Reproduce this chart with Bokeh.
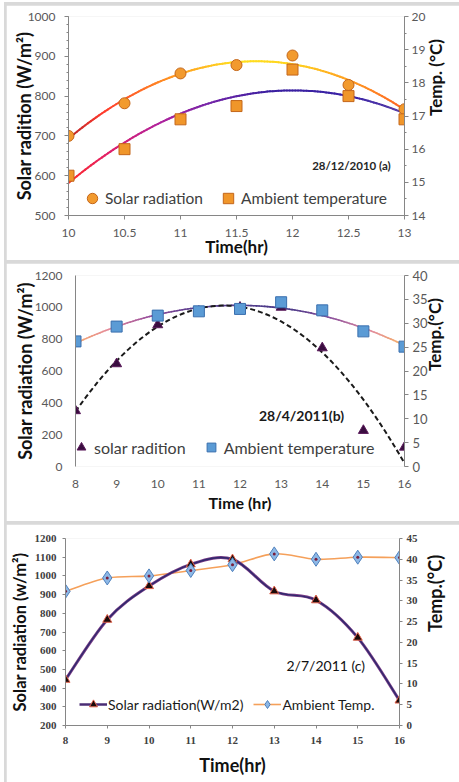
import numpy as np
from bokeh.plotting import figure
from bokeh.models import Range1d, LinearAxis, FixedTicker, Legend, LegendItem, Label, NumeralTickFormatter
from bokeh.layouts import column
from bokeh.embed import file_html
from bokeh.resources import INLINE

# ---------------- data ----------------
# (a) 28/12/2010
a_time = [10, 10.5, 11, 11.5, 12, 12.5, 13]
a_solar = [700, 782, 857, 878, 902, 828, 767]
a_temp = [15.2, 16.0, 16.9, 17.3, 18.4, 17.6, 16.9]
a_x_ticks = [10, 10.5, 11, 11.5, 12, 12.5, 13]
a_x_labels = ["10", "10.5", "11", "11.5", "12", "12.5", "13"]
a_left_ticks = [500, 600, 700, 800, 900, 1000]
a_right_ticks = [14, 15, 16, 17, 18, 19, 20]

# (b) 28/4/2011
b_time = [8, 9, 10, 11, 12, 13, 14, 15, 16]
b_solar = [350, 645, 890, 975, 1000, 1000, 745, 226, 121]
b_temp = [26.2, 29.3, 31.6, 32.5, 33.0, 34.4, 32.7, 28.3, 25.1]
b_x_ticks = [8, 9, 10, 11, 12, 13, 14, 15, 16]
b_left_ticks = [0, 200, 400, 600, 800, 1000, 1200]
b_right_ticks = [0, 5, 10, 15, 20, 25, 30, 35, 40]

# (c) 2/7/2011
c_time = [8, 9, 10, 11, 12, 13, 14, 15, 16]
c_solar = [445, 766, 946, 1062, 1089, 918, 870, 670, 334]
c_temp = [32.3, 35.5, 36.0, 37.3, 38.7, 41.3, 40.0, 40.5, 40.4]
c_x_ticks = [8, 9, 10, 11, 12, 13, 14, 15, 16]
c_left_ticks = [200, 300, 400, 500, 600, 700, 800, 900, 1000, 1100, 1200]
c_right_ticks = [0, 5, 10, 15, 20, 25, 30, 35, 40, 45]

FONT = "Lato"
AXC = "#868686"
TICKC = "#595959"
W = 453
NAN = [float("nan")]


def lerp_colors(stops, n):
    fr = np.array([s[0] for s in stops])
    rgb = np.array([[int(s[1][i:i + 2], 16) for i in (1, 3, 5)] for s in stops], float)
    out = []
    for t in np.linspace(0, 1, n):
        r = [int(round(np.interp(t, fr, rgb[:, k]))) for k in range(3)]
        out.append("#%02x%02x%02x" % tuple(r))
    return out


def gradient_trend(p, x, y, stops, width, yname="default", n=120):
    xs = np.linspace(min(x), max(x), n + 1)
    ys = np.polyval(np.polyfit(x, y, 2), xs)
    cols = lerp_colors(stops, n)
    p.segment(x0=xs[:-1], y0=ys[:-1], x1=xs[1:], y1=ys[1:], line_color=cols,
              line_width=width, line_cap="round", y_range_name=yname)


def smooth(p, x, y, yname="default", **kw):
    x = np.asarray(x, float)
    y = np.asarray(y, float)
    n = len(x)
    xp = np.concatenate([[x[0]], x, [x[-1]]])
    yp = np.concatenate([[y[0]], y, [y[-1]]])
    cx0 = xp[1:n] + (xp[2:n + 1] - xp[0:n - 1]) / 6
    cy0 = yp[1:n] + (yp[2:n + 1] - yp[0:n - 1]) / 6
    cx1 = xp[2:n + 1] - (xp[3:n + 2] - xp[1:n]) / 6
    cy1 = yp[2:n + 1] - (yp[3:n + 2] - yp[1:n]) / 6
    return p.bezier(x0=x[:-1], y0=y[:-1], x1=x[1:], y1=y[1:], cx0=cx0, cy0=cy0,
                    cx1=cx1, cy1=cy1, y_range_name=yname, **kw)


def base_fig(h, xr, yr, bl, br, bt, bb):
    p = figure(width=W, height=h, x_range=Range1d(*xr), y_range=Range1d(*yr), tools="",
               toolbar_location=None, output_backend="svg",
               min_border_left=bl, min_border_right=br, min_border_top=bt, min_border_bottom=bb)
    p.xgrid.visible = False
    p.ygrid.visible = False
    p.outline_line_color = None
    return p


def style_axis(ax, ticks, minor=None, tick_out=4, minor_out=0, standoff=5, font=FONT,
               size="12px", color=TICKC, bold=False, line_color=AXC):
    ax.ticker = FixedTicker(ticks=ticks, minor_ticks=minor if minor else [])
    ax.axis_line_color = line_color
    ax.major_tick_line_color = AXC if tick_out else None
    ax.major_tick_out = tick_out
    ax.major_tick_in = 0
    ax.minor_tick_line_color = AXC if minor_out else None
    ax.minor_tick_out = minor_out
    ax.minor_tick_in = 0
    ax.major_label_standoff = standoff
    ax.major_label_text_font = font
    ax.major_label_text_font_size = size
    ax.major_label_text_color = color
    ax.major_label_text_font_style = "bold" if bold else "normal"


def title_axis(ax, text, size, standoff, color="#111111", flip=False):
    ax.axis_label = text
    ax.axis_label_text_font = FONT
    ax.axis_label_text_font_size = size
    ax.axis_label_text_font_style = "bold"
    ax.axis_label_text_color = color
    ax.axis_label_standoff = standoff
    if flip and "axis_label_orientation" in ax.properties():
        ax.axis_label_orientation = float(np.pi / 2)


def add_text(p, fr, xr, yr, px, py, text, size, bold=True, color="#111111"):
    # fr = frame (left, right, top, bottom) in window pixels
    x = xr[0] + (px - fr[0]) / (fr[1] - fr[0]) * (xr[1] - xr[0])
    y = yr[0] + (fr[3] - py) / (fr[3] - fr[2]) * (yr[1] - yr[0])
    p.add_layout(Label(x=x, y=y, text=text, text_align="center",
                       text_baseline="middle", text_font=FONT, text_font_size=size,
                       text_font_style="bold" if bold else "normal", text_color=color))


def style_legend(leg, loc, size, glyph_w, glyph_h, standoff, spacing, color="#404040"):
    leg.location = loc
    leg.orientation = "horizontal"
    leg.background_fill_alpha = 0
    leg.border_line_color = None
    leg.padding = 0
    leg.margin = 0
    leg.spacing = spacing
    leg.label_standoff = standoff
    leg.glyph_width = glyph_w
    leg.glyph_height = glyph_h
    leg.label_text_font = FONT
    leg.label_text_font_size = size
    leg.label_text_color = color
    leg.label_height = 20


# ================= panel (a) =================
fa = (68, 410, 16, 216)
xa, ya = (10, 13), (500, 1000)
p1 = base_fig(255, xa, ya, 62, 49, 11, 45)
p1.extra_y_ranges = {"t": Range1d(14, 20)}
ra1 = LinearAxis(y_range_name="t")
p1.add_layout(ra1, "right")
style_axis(p1.left[0], a_left_ticks, list(range(500, 1001, 20)), 4, 2, 9)
style_axis(ra1, a_right_ticks, np.arange(14, 20.01, 0.5).tolist(), 4, 2, 3)
style_axis(p1.below[0], a_x_ticks, None, 4, 0, 9)
p1.below[0].formatter = NumeralTickFormatter(format="0.[0]")
p1.below[0].major_label_overrides = dict(zip(a_x_ticks, a_x_labels))
title_axis(p1.left[0], "Solar radition (W/m²)", "18px", -10)
title_axis(ra1, "Temp. (°C)", "17px", 7, flip=True)
title_axis(p1.below[0], "Time(hr)", "17px", -4)

gradient_trend(p1, a_time, a_solar,
               [(0, "#b8262a"), (0.1, "#ff3a2c"), (0.3, "#ff9222"), (0.5, "#ffe01e"),
                (0.68, "#ffd21e"), (0.85, "#ff9a22"), (1, "#ff6424")], 2)
gradient_trend(p1, a_time, a_temp,
               [(0, "#ff2a2a"), (0.12, "#e0206a"), (0.27, "#b0229c"), (0.42, "#7424a8"),
                (0.6, "#3a1fa0"), (0.85, "#3a23a6"), (1, "#5a40a8")], 2, yname="t")
r1s = p1.scatter(a_time, a_solar, marker="circle", size=11, fill_color="#f29a2e",
                 line_color="#c4661a", line_width=1)
r1t = p1.scatter(a_time, a_temp, marker="square", size=11, fill_color="#f0962a",
                 line_color="#c4661a", line_width=1, y_range_name="t")
leg1 = Legend(items=[LegendItem(label="Solar radiation", renderers=[r1s]),
                     LegendItem(label="Ambient temperature", renderers=[r1t])])
style_legend(leg1, (11, 4), "15.5px", 26, 26, 0, 12)
p1.add_layout(leg1)
add_text(p1, fa, xa, ya, 356, 166, "28/12/2010 (a)", "11.5px", color="#262626")

# ================= panel (b) =================
fb = (75, 404, 275, 466)
xb, yb = (8, 16), (0, 1200)
p2 = base_fig(258, xb, yb, 69, 55, 12, 55)
p2.extra_y_ranges = {"t": Range1d(0, 40)}
ra2 = LinearAxis(y_range_name="t")
p2.add_layout(ra2, "right")
style_axis(p2.left[0], b_left_ticks, None, 0, 0, 13)
style_axis(ra2, b_right_ticks, None, 4, 0, 4, size="13px")
style_axis(p2.below[0], b_x_ticks, None, 0, 0, 13, line_color=None)
title_axis(p2.left[0], "Solar radiation (W/m²)", "18px", -4)
title_axis(ra2, "Temp.(°C)", "17px", 4, flip=True)
title_axis(p2.below[0], "Time (hr)", "16px", 2)

gradient_trend(p2, b_time, b_temp,
               [(0, "#f6a86e"), (0.1, "#e48a9a"), (0.22, "#9a4f9c"), (0.35, "#5a3c8e"),
                (0.65, "#4a3a88"), (0.78, "#8a4f9c"), (0.9, "#e08a9e"), (1, "#f7b267")],
               1.6, yname="t")
bx = np.linspace(min(b_time), max(b_time), 121)
p2.line(bx, np.polyval(np.polyfit(b_time, b_solar, 2), bx), line_color="#1a1a1a",
        line_width=2, line_dash="5 3")
r2s = p2.scatter(b_time, b_solar, marker="triangle", size=10, fill_color="#3a0d40",
                 line_color="#5a1a5a", line_width=1)
r2t = p2.scatter(b_time, b_temp, marker="square", size=11, fill_color="#5b9bd5",
                 line_color="#3a6fae", line_width=1, y_range_name="t")
leg2 = Legend(items=[LegendItem(label="solar radition", renderers=[r2s]),
                     LegendItem(label="Ambient temperature", renderers=[r2t])])
style_legend(leg2, (-5, 8), "16px", 22, 22, 2, 14)
p2.add_layout(leg2)
add_text(p2, fb, xb, yb, 301, 415, "28/4/2011(b)", "14px", color="#1a1a1a")

# ================= panel (c) =================
fc = (64, 399, 538, 725)
xc, yc = (8, 16), (200, 1200)
p3 = base_fig(258, xc, yc, 58, 60, 14, 57)
p3.extra_y_ranges = {"t": Range1d(0, 45)}
ra3 = LinearAxis(y_range_name="t")
p3.add_layout(ra3, "right")
SERIF = "Liberation Serif"
style_axis(p3.left[0], c_left_ticks, None, 3, 0, 6, font=SERIF, size="11px", color="#404040", bold=True)
style_axis(ra3, c_right_ticks, None, 3, 0, 4, font=SERIF, size="11px", color="#404040", bold=True)
style_axis(p3.below[0], c_x_ticks, None, 3, 0, 8, font=SERIF, size="11px", color="#404040", bold=True)
title_axis(p3.left[0], "Solar radiation (w/m²)", "16.5px", 2)
title_axis(ra3, "Temp.(°C)", "18px", 14, flip=True)
title_axis(p3.below[0], "Time(hr)", "18px", 7)

smooth(p3, c_time, c_temp, yname="t", line_color="#f5a05a", line_width=1.6)
smooth(p3, c_time, c_solar, line_color="#7a3a86", line_width=3)
smooth(p3, c_time, c_solar, line_color="#2e2a6e", line_width=1.4)
r3s = p3.scatter(c_time, c_solar, marker="triangle", size=9, fill_color="#1a0a0a",
                 line_color="#e0604a", line_width=1)
r3t = p3.scatter(c_time, c_temp, marker="diamond", size=14, fill_color="#8db8e6",
                 line_color="#4f81bd", line_width=1, y_range_name="t")
p3.scatter(c_time, c_temp, marker="circle", size=3, fill_color="#7a1f3d",
           line_color=None, y_range_name="t")
l3a = p3.line(x=NAN, y=NAN, line_color="#4a2c74", line_width=2.5)
l3b = p3.line(x=NAN, y=NAN, line_color="#f5a05a", line_width=1.6)
leg3 = Legend(items=[LegendItem(label="Solar radiation(W/m2)", renderers=[l3a, r3s]),
                     LegendItem(label="Ambient Temp.", renderers=[l3b, r3t])])
style_legend(leg3, (14, 11), "14px", 28, 20, 1, 10, color="#1a1a1a")
p3.add_layout(leg3)
add_text(p3, fc, xc, yc, 325, 665, "2/7/2011 (c)", "14px", bold=False, color="#111111")

GRAY = "#d9d9d9"
box1 = column(p1, styles={"background-color": GRAY, "padding": "3px 0px 0px 2px",
                          "margin": "2px 0px 0px 4px"})
box2 = column(p2, styles={"background-color": GRAY, "padding": "3px 0px 0px 2px",
                          "margin": "0px 0px 0px 4px"})
box3 = column(p3, styles={"background-color": GRAY, "padding": "3px 0px 0px 2px",
                          "margin": "0px 0px 0px 4px"})

open("out.html", "w").write(file_html([box1, box2, box3], INLINE))
